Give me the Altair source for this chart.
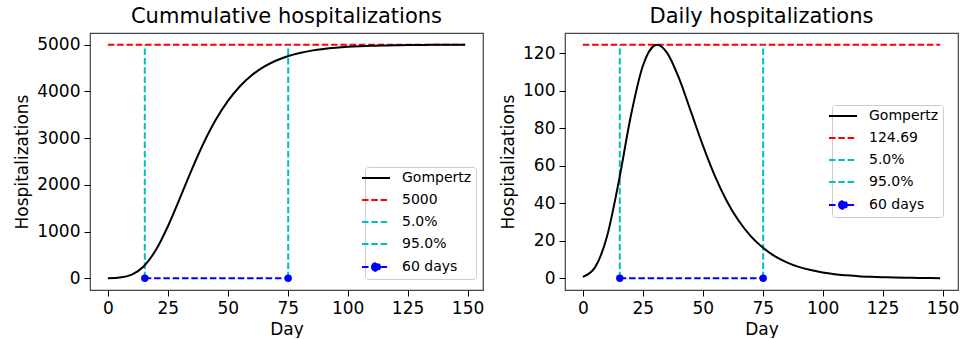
import altair as alt
import pandas as pd

# ---- data ----
days = [0, 5, 10, 15, 20, 25, 30, 31, 35, 40, 45, 50, 55, 60, 65, 70, 75,
        80, 85, 90, 95, 100, 105, 110, 115, 120, 125, 130, 135, 140, 145, 149]
cumulative = [1, 15, 78, 258, 604, 1109, 1710, 1836, 2328, 2900, 3392, 3793,
              4106, 4345, 4524, 4656, 4753, 4823, 4873, 4909, 4935, 4954,
              4967, 4976, 4983, 4988, 4991, 4994, 4996, 4997, 4998, 4998]
daily = [0.8, 5.7, 22.0, 51.8, 86.6, 113.3, 124.4, 124.7, 120.6, 107.1, 89.2,
         71.1, 54.8, 41.3, 30.7, 22.5, 16.4, 11.8, 8.5, 6.1, 4.4, 3.1, 2.2,
         1.6, 1.1, 0.8, 0.6, 0.4, 0.3, 0.2, 0.15, 0.1]
day_range = [0, 149]
threshold_days = [15.4, 75.2]
cum_max = 5000
daily_max = 124.69
legend_left = ["Gompertz", "5000", "5.0%", "95.0%", "60 days"]
legend_right = ["Gompertz", "124.69", "5.0%", "95.0%", "60 days"]
x_ticks = [0, 25, 50, 75, 100, 125, 150]
y_ticks_left = [0, 1000, 2000, 3000, 4000, 5000]
y_ticks_right = [0, 20, 40, 60, 80, 100, 120]

FONT = "DejaVu Sans"
RED = "#FF0000"
CYAN = "#00BFBF"
BLUE = "#0000FF"
DASH = [6.5, 2.8]
LW = 2

LINE = "M-2.8,0H2.8"
DOT = "M-2.8,0H2.8M-0.8,0A0.8,0.8 0 1,0 0.8,0A0.8,0.8 0 1,0 -0.8,0"

W, H = 393, 257


def panel(values, top, title, labels, yticks, lx, ly):
    curve = pd.DataFrame({"day": days, "v": values})
    ymin = -0.05 * top
    ymax = top * 1.05
    xs = alt.Scale(domain=[-7.45, 156.45], nice=False, zero=False)
    ys = alt.Scale(domain=[ymin, ymax], nice=False, zero=False)
    xax = alt.Axis(values=x_ticks, title="Day", grid=False, format="d")
    yax = alt.Axis(values=yticks, title="Hospitalizations", grid=False, format="d")

    line = alt.Chart(curve).mark_line(color="black", strokeWidth=LW, interpolate="monotone").encode(
        x=alt.X("day:Q", scale=xs, axis=xax),
        y=alt.Y("v:Q", scale=ys, axis=yax),
    )
    hdf = pd.DataFrame({"x1": [day_range[0]], "x2": [day_range[1]], "y": [top]})
    hline = alt.Chart(hdf).mark_rule(color=RED, strokeWidth=LW, strokeDash=DASH).encode(
        x=alt.X("x1:Q", scale=xs), x2="x2:Q", y=alt.Y("y:Q", scale=ys)
    )
    vdf = pd.DataFrame({"x": threshold_days, "y1": [0, 0], "y2": [top, top]})
    vlines = alt.Chart(vdf).mark_rule(color=CYAN, strokeWidth=LW, strokeDash=DASH).encode(
        x=alt.X("x:Q", scale=xs), y=alt.Y("y1:Q", scale=ys), y2="y2:Q"
    )
    ddf = pd.DataFrame({"x": threshold_days, "y": [0, 0]})
    dline = alt.Chart(ddf).mark_line(color=BLUE, strokeWidth=LW, strokeDash=DASH).encode(
        x=alt.X("x:Q", scale=xs), y=alt.Y("y:Q", scale=ys)
    )
    dpts = alt.Chart(ddf).mark_circle(color=BLUE, size=55, opacity=1).encode(
        x=alt.X("x:Q", scale=xs), y=alt.Y("y:Q", scale=ys)
    )

    leg = alt.Legend(
        title=None, orient="none", legendX=lx, legendY=ly,
        symbolSize=100, symbolStrokeWidth=LW, symbolOpacity=1,
        labelFontSize=14, labelFont=FONT, labelColor="black", labelOffset=19,
        padding=4, rowPadding=8, strokeColor="#cccccc", fillColor="white",
        cornerRadius=3, labelLimit=0,
    )
    ldf = pd.DataFrame({"label": labels})
    colors = ["black", RED, CYAN, CYAN, BLUE]
    cscale = alt.Scale(domain=labels, range=colors)
    legend_layer = alt.Chart(ldf).mark_point(opacity=0).encode(
        fill=alt.Fill("label:N", scale=cscale, legend=leg),
        stroke=alt.Stroke("label:N", scale=cscale, legend=leg),
        shape=alt.Shape("label:N", scale=alt.Scale(domain=labels, range=[LINE, LINE, LINE, LINE, DOT]), legend=leg),
        strokeDash=alt.StrokeDash("label:N", scale=alt.Scale(domain=labels, range=[[1, 0], DASH, DASH, DASH, DASH]), legend=leg),
    )

    return alt.layer(hline, vlines, line, dline, dpts, legend_layer).properties(
        width=W, height=H,
        title=alt.TitleParams(title, fontSize=21, font=FONT, fontWeight="normal", color="black", offset=6),
    )


left = panel(cumulative, cum_max, "Cummulative hospitalizations", legend_left, y_ticks_left, 275, 134)
right = panel(daily, daily_max, "Daily hospitalizations", legend_right, y_ticks_right, 267, 72)

chart = alt.hconcat(left, right, spacing=13).resolve_scale(
    x="independent", y="independent", fill="independent", stroke="independent",
    shape="independent", strokeDash="independent",
).properties(
    padding={"left": 13, "top": 5, "right": 5, "bottom": 0},
    background="white",
).configure_view(
    stroke="#444444", strokeWidth=1.2,
).configure_axis(
    labelFont=FONT, titleFont=FONT, labelFontSize=17, titleFontSize=17,
    labelColor="black", titleColor="black", titleFontWeight="normal",
    tickColor="black", tickSize=6, tickWidth=1, domain=False,
    labelPadding=4, titlePadding=5,
)

chart.save("out.html", embed_options={"renderer": "svg", "actions": False})
